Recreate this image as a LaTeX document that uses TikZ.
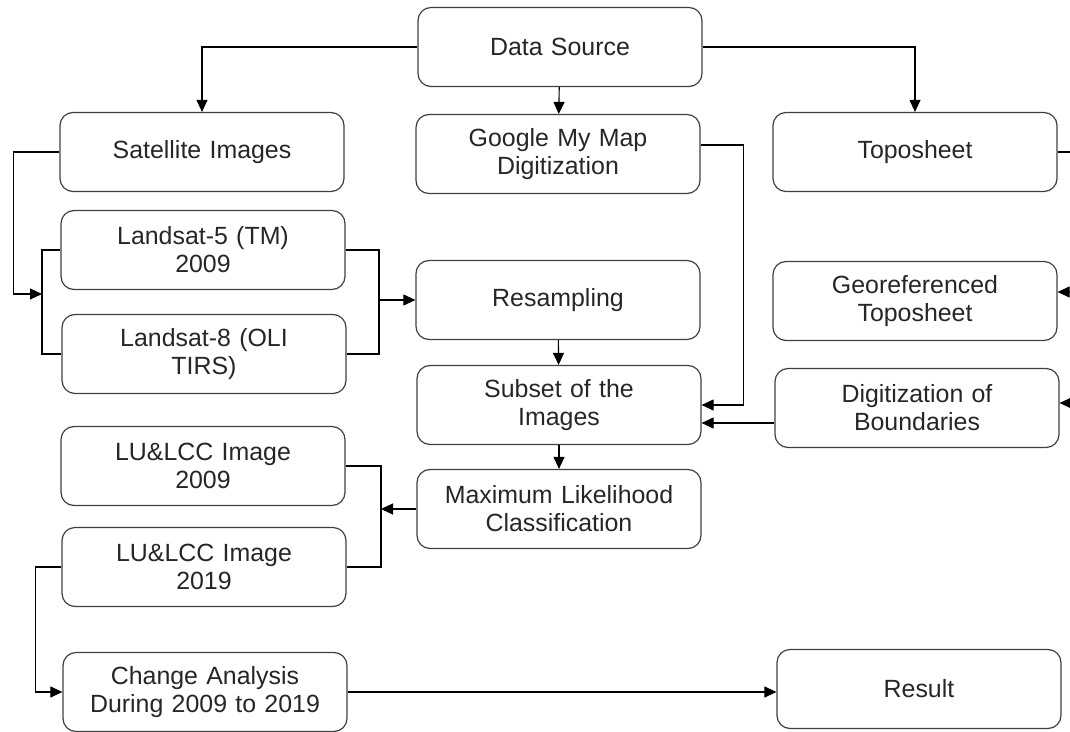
\documentclass[tikz,border=0pt]{standalone}
\usepackage{fontspec}
\setmainfont{Liberation Sans}
\usetikzlibrary{arrows.meta}

\begin{document}
\begin{tikzpicture}[x=1bp,y=-1bp,line width=1.1bp,
  box/.style={draw=black!75,line width=1.2bp,rounded corners=13bp,minimum width=284bp,minimum height=79bp,text width=276bp,align=center,inner sep=0pt,text=black!85,font=\fontsize{25}{28}\selectfont},
  arr/.style={-{Triangle[length=12bp,width=11bp]}}]
\useasboundingbox (0,0) rectangle (1070,732);

\node[box] (src) at (560,47) {Data Source};
\node[box] (sat) at (202,152) {Satellite Images};
\node[box] (gmm) at (558,154) {Google My Map\\Digitization};
\node[box] (topo) at (915,152) {Toposheet};
\node[box] (ls5) at (203,250) {Landsat-5 (TM)\\2009};
\node[box] (ls8) at (204,354) {Landsat-8 (OLI\\TIRS)};
\node[box] (resamp) at (558,300) {Resampling};
\node[box] (geo) at (915,301) {Georeferenced\\Toposheet};
\node[box] (subset) at (559,405) {Subset of the\\Images};
\node[box] (digit) at (917,408) {Digitization of\\Boundaries};
\node[box] (lu09) at (203,466) {LU\&LCC Image\\2009};
\node[box] (lu19) at (204,567) {LU\&LCC Image\\2019};
\node[box] (mlc) at (559,509) {Maximum Likelihood\\Classification};
\node[box] (change) at (205,692) {Change Analysis\\During 2009 to 2019};
\node[box] (result) at (919,689) {Result};

\coordinate (lsj) at (42,294);
\coordinate (rsj) at (379,300);
\coordinate (luj) at (381,509);
\coordinate (edge) at (1070,0);

\draw[arr] (src.west) -| (sat.north);
\draw[arr] (src.east) -| (topo.north);
\draw[arr] (src) -- (gmm);

\draw[arr] (sat.west) -- ++(-46,0) |- (lsj);
\draw (ls5.west) -| (lsj) |- (ls8.west);
\draw (ls5.east) -| (rsj) |- (ls8.east);
\draw[arr] (rsj) -- (rsj -| resamp.west);
\draw[arr] (resamp) -- (subset);

\draw[arr] ([yshift=9bp]gmm.east) -- ++(43,0) |- (subset.east);
\coordinate (dl) at ([yshift=-15bp]digit.west);
\draw[arr] (dl) -- (dl -| subset.east);

\draw (topo.east) -- (topo.east -| edge);
\coordinate (gr) at ([yshift=9bp]geo.east);
\draw[arr] (gr -| edge) -- (gr);
\coordinate (dr) at ([yshift=5bp]digit.east);
\draw[arr] (dr -| edge) -- (dr);

\draw[arr] (subset) -- (mlc);
\draw (lu09.east) -| (luj) |- (lu19.east);
\draw[arr] (mlc.west) -- (luj);
\draw[arr] (lu19.west) -- ++(-26,0) |- (change.west);
\draw[arr] (change.east) -- (change.east -| result.west);

\end{tikzpicture}
\end{document}
